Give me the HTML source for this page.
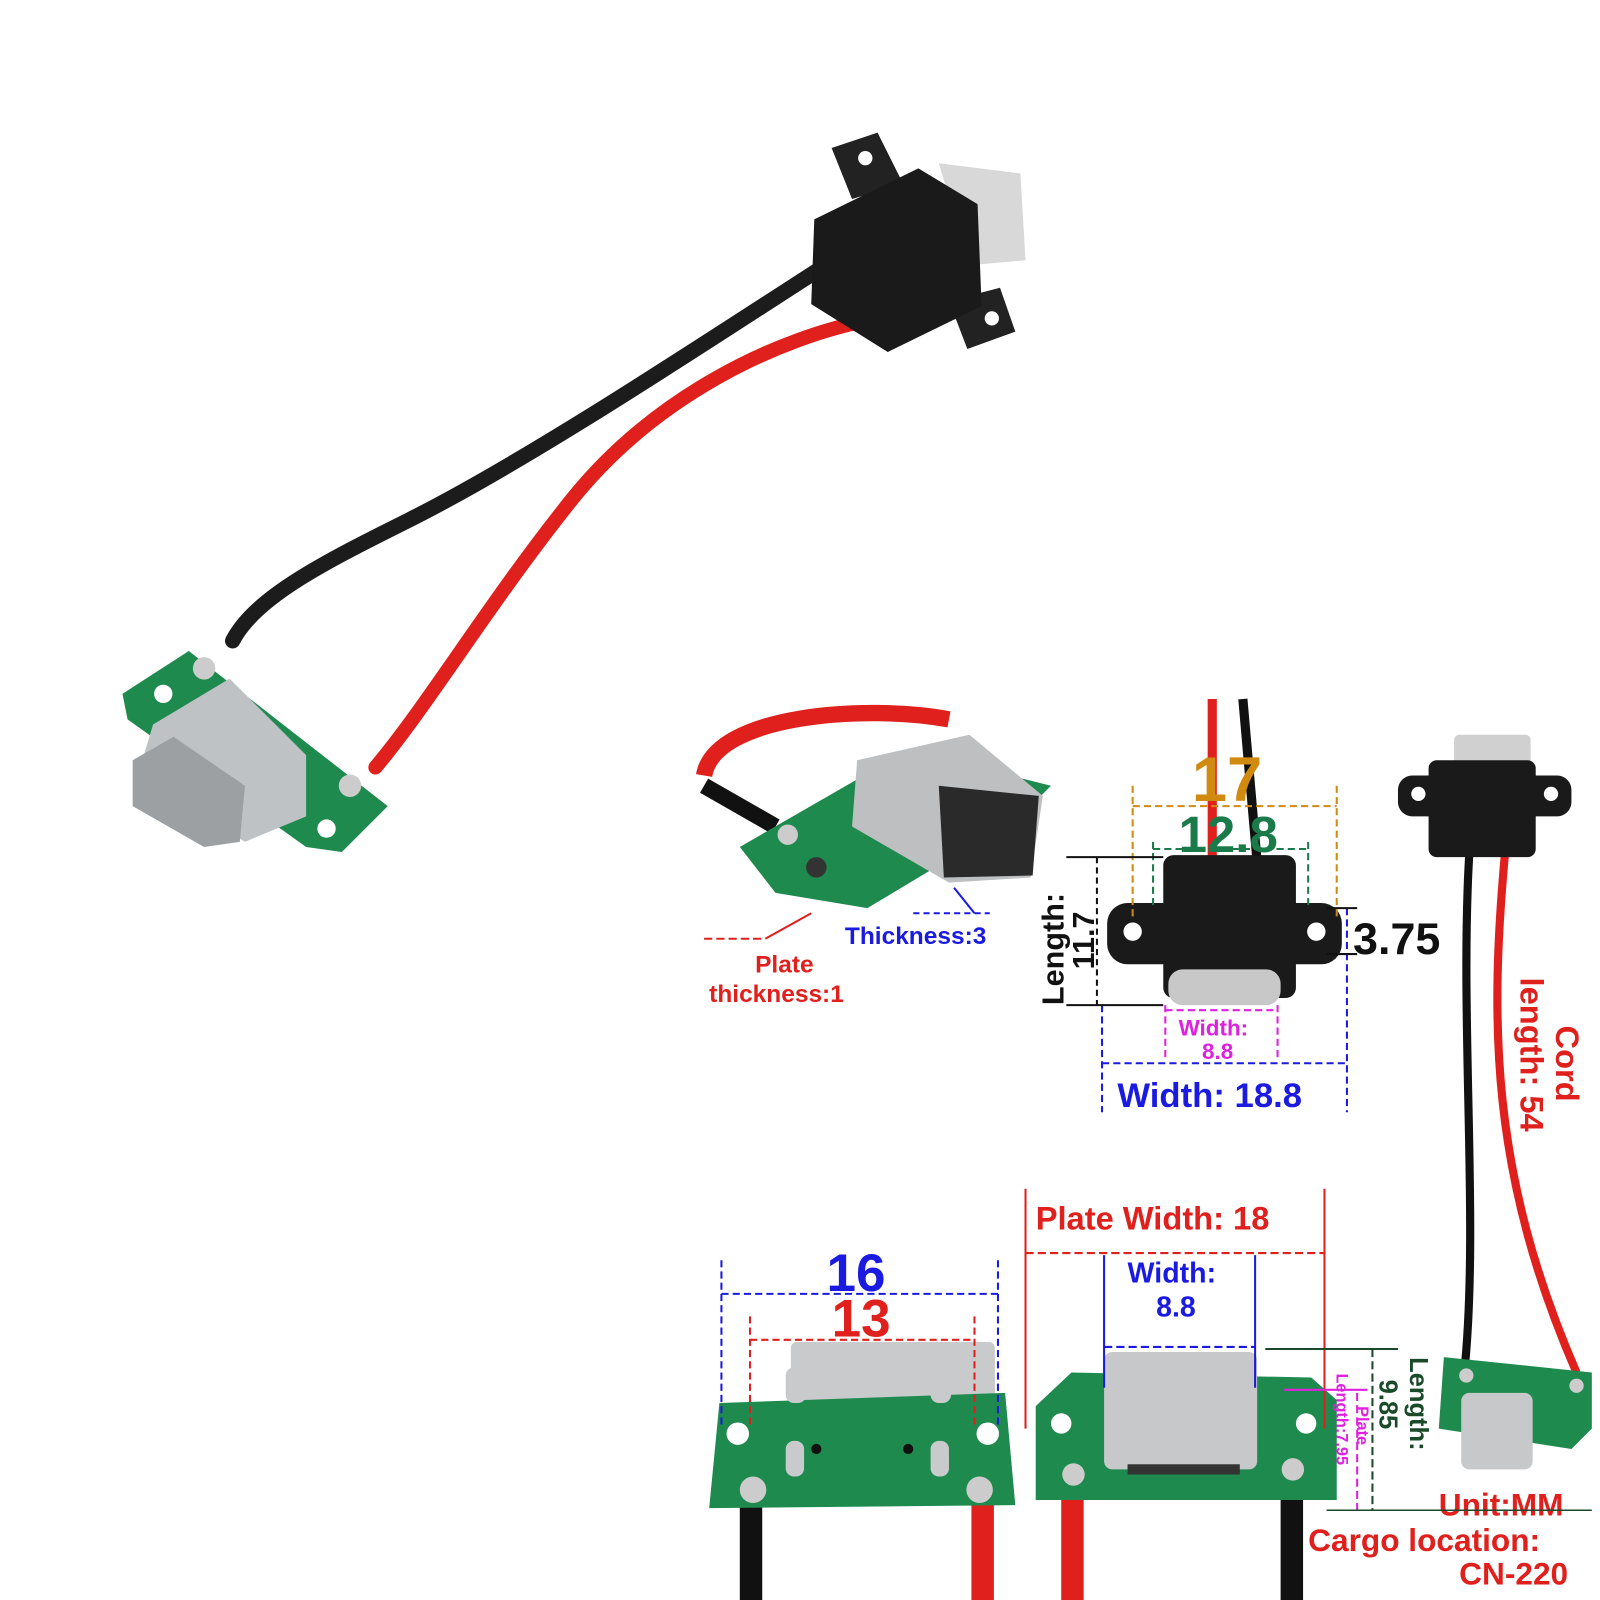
<!DOCTYPE html>
<html><head><style>html,body{margin:0;padding:0;background:#fff}svg{display:block}text{font-family:"Liberation Sans",sans-serif;font-weight:bold}</style></head>
<body>
<svg width="1600" height="1600" viewBox="0 0 1568 1568" xmlns="http://www.w3.org/2000/svg">
<rect width="1568" height="1568" fill="#fff"/>
<!-- main cable -->
<path d="M812,258 C700,330 520,450 400,510 C320,550 250,585 228,628" stroke="#1c1c1c" stroke-width="15" fill="none" stroke-linecap="round"/>
<path d="M860,312 C760,330 640,390 560,490 C480,590 420,690 368,752" stroke="#e0201c" stroke-width="14" fill="none" stroke-linecap="round"/>
<path d="M815,145 L860,130 L885,180 L835,195 Z" fill="#222"/>
<path d="M930,295 L980,282 L995,325 L948,342 Z" fill="#222"/>
<circle cx="848" cy="155" r="7" fill="#fff"/><circle cx="972" cy="312" r="7" fill="#fff"/>
<path d="M920,160 L1000,170 L1005,255 L950,260 Z" fill="#d8d8d8"/>
<path d="M798,215 L900,165 L958,200 L962,300 L870,345 L795,298 Z" fill="#1a1a1a"/>
<!-- main pcb -->
<path d="M120,680 L185,638 L380,790 L335,835 L300,830 L125,705 Z" fill="#1e8a4e"/>
<path d="M150,710 L225,665 L300,740 L300,800 L240,825 L135,760 Z" fill="#bfc2c4"/>
<path d="M130,745 L170,722 L240,770 L235,825 L200,830 L130,790 Z" fill="#9da0a2"/>
<circle cx="160" cy="680" r="9" fill="#fff"/><circle cx="320" cy="812" r="9" fill="#fff"/>
<circle cx="200" cy="655" r="11" fill="#ccc"/><circle cx="343" cy="770" r="11" fill="#ccc"/>
<!-- small image top-left -->
<path d="M690,760 C700,700 850,690 930,705" stroke="#e0201c" stroke-width="16" fill="none"/>
<path d="M690,770 L760,810" stroke="#111" stroke-width="16"/>
<path d="M725,830 L890,735 L1030,770 L1000,800 L850,890 L760,875 Z" fill="#1e8a4e"/>
<path d="M840,745 L950,720 L1022,780 L1010,860 L930,865 L835,810 Z" fill="#bdbfc1"/>
<path d="M920,770 L1018,780 L1012,858 L925,860 Z" fill="#2a2a2a"/>
<circle cx="800" cy="850" r="10" fill="#333"/><circle cx="772" cy="818" r="10" fill="#ccc"/>
<line x1="690" y1="920" x2="750" y2="920" stroke="#e0201c" stroke-width="2" stroke-dasharray="8,4"/>
<line x1="750" y1="920" x2="795" y2="895" stroke="#e0201c" stroke-width="2"/>
<line x1="895" y1="895" x2="970" y2="895" stroke="#1a1ae0" stroke-width="2" stroke-dasharray="6,4"/>
<line x1="935" y1="870" x2="955" y2="895" stroke="#1a1ae0" stroke-width="2"/>
<text x="828" y="925" font-size="24" fill="#1a1ae0">Thickness:3</text>
<text x="740" y="953" font-size="24" fill="#e0201c">Plate</text>
<text x="695" y="982" font-size="24" fill="#e0201c">thickness:1</text>
<!-- middle connector -->
<line x1="1188" y1="685" x2="1188" y2="845" stroke="#e0201c" stroke-width="9"/>
<line x1="1218" y1="685" x2="1232" y2="845" stroke="#111" stroke-width="9"/>
<rect x="1085" y="885" width="230" height="60" rx="20" fill="#1a1a1a"/>
<rect x="1140" y="838" width="130" height="140" rx="10" fill="#1a1a1a"/>
<rect x="1145" y="950" width="110" height="35" rx="14" fill="#c8c8c8"/>
<circle cx="1110" cy="913" r="9" fill="#fff"/><circle cx="1290" cy="913" r="9" fill="#fff"/>
<g stroke-dasharray="7,4" stroke-width="2" fill="none">
<path d="M1110,770 L1110,900 M1310,770 L1310,900 M1110,790 L1310,790" stroke="#d08a10"/>
<path d="M1130,825 L1130,890 M1282,825 L1282,890 M1130,832 L1282,832" stroke="#1a7a4a"/>
<path d="M1080,985 L1080,1090 M1320,890 L1320,1090 M1080,1042 L1320,1042" stroke="#1a1ae0"/>
<path d="M1142,985 L1142,1040 M1252,985 L1252,1040 M1142,990 L1252,990" stroke="#e020e0"/>
</g>
<line x1="1045" y1="840" x2="1140" y2="840" stroke="#111" stroke-width="2"/>
<line x1="1045" y1="985" x2="1140" y2="985" stroke="#111" stroke-width="2"/>
<line x1="1075" y1="840" x2="1075" y2="985" stroke="#111" stroke-width="2" stroke-dasharray="6,4"/>
<line x1="1300" y1="890" x2="1330" y2="890" stroke="#111" stroke-width="2"/>
<line x1="1300" y1="935" x2="1330" y2="935" stroke="#111" stroke-width="2"/>
<text x="1168" y="785" font-size="62" fill="#d08a10">17</text>
<text x="1155" y="835" font-size="50" fill="#1a7a4a">12.8</text>
<text transform="translate(1042,985) rotate(-90)" font-size="30" fill="#111">Length:</text>
<text transform="translate(1072,950) rotate(-90)" font-size="30" fill="#111">11.7</text>
<text x="1326" y="935" font-size="44" fill="#111">3.75</text>
<text x="1155" y="1015" font-size="22" fill="#e020e0">Width:</text>
<text x="1178" y="1038" font-size="22" fill="#e020e0">8.8</text>
<text x="1095" y="1085" font-size="34" fill="#1a1ae0">Width: 18.8</text>
<!-- right connector -->
<path d="M1440,835 C1430,1000 1450,1200 1435,1345" stroke="#111" stroke-width="8" fill="none"/>
<path d="M1475,835 C1460,1000 1460,1150 1545,1345" stroke="#e0201c" stroke-width="8" fill="none"/>
<rect x="1425" y="720" width="75" height="30" rx="5" fill="#d0d0d0"/>
<rect x="1370" y="760" width="170" height="40" rx="14" fill="#1a1a1a"/>
<rect x="1400" y="745" width="105" height="95" rx="8" fill="#1a1a1a"/>
<circle cx="1390" cy="778" r="7" fill="#fff"/><circle cx="1520" cy="778" r="7" fill="#fff"/>
<text transform="translate(1525,1005) rotate(90)" font-size="32" fill="#e0201c">Cord</text>
<text transform="translate(1490,958) rotate(90)" font-size="32" fill="#e0201c">length: 54</text>
<path d="M1415,1330 L1560,1345 L1560,1400 L1540,1420 L1410,1400 Z" fill="#1e8a4e"/>
<rect x="1432" y="1365" width="70" height="75" rx="8" fill="#c6c8ca"/>
<circle cx="1437" cy="1348" r="7" fill="#ccc"/><circle cx="1545" cy="1358" r="7" fill="#ccc"/>
<text x="1410" y="1485" font-size="31" fill="#e0201c">Unit:MM</text>
<text x="1282" y="1520" font-size="31" fill="#e0201c">Cargo location:</text>
<text x="1430" y="1553" font-size="31" fill="#e0201c">CN-220</text>
<!-- bottom-left board -->
<rect x="725" y="1470" width="22" height="100" fill="#111"/>
<rect x="952" y="1470" width="22" height="100" fill="#e0201c"/>
<rect x="775" y="1315" width="200" height="60" rx="6" fill="#c8cacc"/>
<path d="M705,1375 L985,1365 L995,1475 L695,1478 Z" fill="#1e8a4e"/>
<rect x="770" y="1340" width="20" height="35" rx="8" fill="#c8cacc"/><rect x="912" y="1340" width="20" height="35" rx="8" fill="#c8cacc"/>
<rect x="770" y="1412" width="18" height="35" rx="8" fill="#c8cacc"/><rect x="912" y="1412" width="18" height="35" rx="8" fill="#c8cacc"/>
<circle cx="723" cy="1405" r="11" fill="#fff"/><circle cx="968" cy="1405" r="11" fill="#fff"/>
<circle cx="738" cy="1460" r="13" fill="#ccc"/><circle cx="960" cy="1460" r="13" fill="#ccc"/>
<circle cx="800" cy="1420" r="5" fill="#111"/><circle cx="890" cy="1420" r="5" fill="#111"/>
<g stroke-dasharray="7,4" stroke-width="2" fill="none">
<path d="M707,1235 L707,1400 M978,1235 L978,1400 M707,1268 L978,1268" stroke="#1a1ae0"/>
<path d="M735,1290 L735,1400 M955,1290 L955,1400 M735,1313 L955,1313" stroke="#e0201c"/>
</g>
<text x="810" y="1265" font-size="52" fill="#1a1ae0">16</text>
<text x="815" y="1310" font-size="52" fill="#e0201c">13</text>
<!-- bottom-middle board -->
<rect x="1040" y="1470" width="22" height="100" fill="#e0201c"/>
<rect x="1255" y="1470" width="22" height="100" fill="#111"/>
<path d="M1050,1345 L1285,1350 L1310,1372 L1310,1470 L1015,1470 L1015,1378 Z" fill="#1e8a4e"/>
<rect x="1082" y="1325" width="150" height="115" rx="8" fill="#c6c8ca"/>
<rect x="1105" y="1435" width="110" height="10" fill="#333"/>
<circle cx="1040" cy="1395" r="10" fill="#fff"/><circle cx="1280" cy="1395" r="10" fill="#fff"/>
<circle cx="1052" cy="1445" r="11" fill="#ccc"/><circle cx="1267" cy="1440" r="11" fill="#ccc"/>
<line x1="1005" y1="1165" x2="1005" y2="1400" stroke="#e0201c" stroke-width="2"/>
<line x1="1298" y1="1165" x2="1298" y2="1400" stroke="#e0201c" stroke-width="2"/>
<line x1="1005" y1="1228" x2="1298" y2="1228" stroke="#e0201c" stroke-width="2" stroke-dasharray="8,4"/>
<line x1="1082" y1="1230" x2="1082" y2="1360" stroke="#1a1ae0" stroke-width="2"/>
<line x1="1230" y1="1230" x2="1230" y2="1360" stroke="#1a1ae0" stroke-width="2"/>
<line x1="1082" y1="1320" x2="1230" y2="1320" stroke="#1a1ae0" stroke-width="2" stroke-dasharray="8,4"/>
<line x1="1240" y1="1322" x2="1370" y2="1322" stroke="#1a4a2a" stroke-width="2"/>
<line x1="1345" y1="1322" x2="1345" y2="1480" stroke="#1a4a2a" stroke-width="2" stroke-dasharray="8,4"/>
<line x1="1258" y1="1362" x2="1340" y2="1362" stroke="#e020e0" stroke-width="2"/>
<line x1="1330" y1="1365" x2="1330" y2="1480" stroke="#e020e0" stroke-width="2" stroke-dasharray="8,4"/>
<line x1="1300" y1="1480" x2="1560" y2="1480" stroke="#1a4a2a" stroke-width="1.5"/>
<text x="1015" y="1205" font-size="32" fill="#e0201c">Plate Width: 18</text>
<text x="1105" y="1257" font-size="28" fill="#1a1ae0">Width:</text>
<text x="1133" y="1290" font-size="28" fill="#1a1ae0">8.8</text>
<text transform="translate(1382,1330) rotate(90)" font-size="25" fill="#1a4a2a">Length:</text>
<text transform="translate(1352,1352) rotate(90)" font-size="25" fill="#1a4a2a">9.85</text>
<text transform="translate(1330,1378) rotate(90)" font-size="16" fill="#e020e0">Plate</text>
<text transform="translate(1310,1346) rotate(90)" font-size="16" fill="#e020e0">Length:7.95</text>
</svg>
</body></html>
